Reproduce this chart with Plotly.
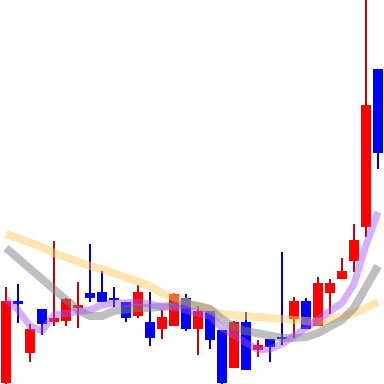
import plotly.graph_objects as go

# Prices (arbitrary units, 0 = bottom edge, 384 = top edge)
px_open  = [383, 301, 353, 309, 322, 321, 308, 293, 292, 298, 302, 316, 322, 329, 326, 298,
            329, 311, 330, 368, 322, 350, 339, 338, 319, 301, 326, 293, 279, 261, 227, 69]
px_close = [301, 304, 329, 324, 318, 299, 305, 298, 302, 300, 318, 292, 338, 317, 294, 329,
            311, 340, 383, 322, 370, 345, 347, 339, 301, 329, 283, 283, 271, 240, 105, 153]
px_high  = [287, 284, 324, 309, 241, 298, 282, 244, 271, 287, 302, 285, 292, 310, 293, 294,
            306, 311, 330, 321, 312, 340, 339, 252, 297, 298, 277, 279, 258, 224, -5, 69]
px_low   = [388, 323, 362, 335, 326, 326, 328, 302, 302, 307, 322, 318, 346, 339, 326, 331,
            355, 349, 388, 368, 370, 357, 362, 345, 338, 329, 326, 314, 279, 272, 237, 169]

ma_short = [299, 310, 326, 331, 315, 313, 312, 310, 305, 303, 303, 302, 304, 307, 307, 310,
            313, 316, 328, 336, 343, 350, 349, 344, 336, 328, 319, 311, 303, 284, 245, 212]
ma_mid   = [248, 258, 268, 279, 289, 300, 310, 316, 316, 311, 309, 308, 308, 307, 306, 304,
            306, 309, 319, 327, 331, 334, 336, 338, 338, 337, 333, 327, 320, 308, 285, 266]
ma_long  = [234, 238, 242, 247, 253, 258, 262, 266, 269, 273, 277, 281, 286, 293, 298, 302,
            306, 310, 314, 315, 316, 318, 320, 321, 322, 322, 322, 320, 317, 313, 308, 302]

H = 384
def v(a):
    return [H - t for t in a]

o, c, hi, lo = v(px_open), v(px_close), v(px_high), v(px_low)
x = list(range(len(o)))

up = [ci >= oi for oi, ci in zip(o, c)]
body_col = ["#ff0000" if u else "#0000ff" for u in up]
wick_col = ["#cc0000" if u else "#0000cc" for u in up]

body_base = [min(a, b) for a, b in zip(o, c)]
body_h = [max(abs(b - a), 2.5) for a, b in zip(o, c)]
wick_h = [h - l for h, l in zip(hi, lo)]

fig = go.Figure()
fig.add_trace(go.Bar(x=x, y=wick_h, base=lo, width=0.17, marker=dict(color=wick_col, line=dict(width=0)),
                     showlegend=False, hoverinfo="skip"))
fig.add_trace(go.Bar(x=x, y=body_h, base=body_base, width=0.84, marker=dict(color=body_col, line=dict(width=0)),
                     showlegend=False, hoverinfo="skip"))
fig.add_trace(go.Scatter(x=x, y=v(ma_long), mode="lines", line=dict(color="rgba(255,204,102,0.5)", width=8),
                         showlegend=False))
fig.add_trace(go.Scatter(x=x, y=v(ma_mid), mode="lines", line=dict(color="rgba(128,128,128,0.5)", width=8),
                         showlegend=False))
fig.add_trace(go.Scatter(x=x, y=v(ma_short), mode="lines", line=dict(color="rgba(160,80,255,0.45)", width=7),
                         showlegend=False))

fig.update_layout(
    width=384, height=384, margin=dict(l=0, r=0, t=0, b=0),
    paper_bgcolor="white", plot_bgcolor="white", barmode="overlay", bargap=0,
    xaxis=dict(range=[-0.5, len(x) - 0.5], visible=False, showgrid=False, zeroline=False),
    yaxis=dict(range=[0, H], visible=False, showgrid=False, zeroline=False),
)
fig.write_html("out.html", config={"displayModeBar": False})
